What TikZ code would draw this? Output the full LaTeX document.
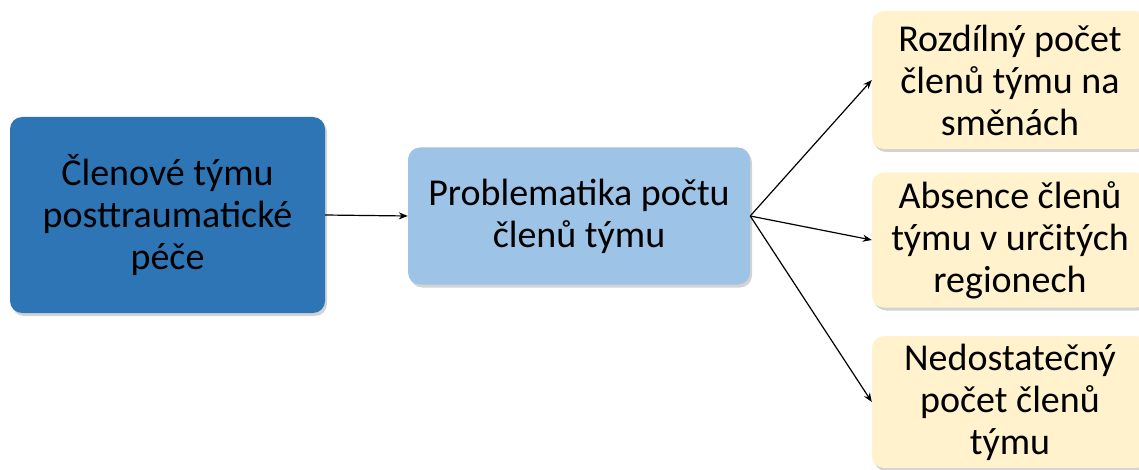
\documentclass[tikz,border=0pt]{standalone}
\usepackage{fontspec}
\setmainfont{Carlito}
\usetikzlibrary{arrows.meta,shadows}

\definecolor{tymblue}{HTML}{2E75B6}
\definecolor{problue}{HTML}{9DC3E6}
\definecolor{cream}{HTML}{FFF2CC}

\tikzset{
	box/.style={rounded corners=12pt, align=center, text=black,
		font=\fontsize{38}{42}\selectfont,
		drop shadow={opacity=0.35, shadow xshift=2pt, shadow yshift=-3pt}},
	link/.style={line width=1.2pt, -{Stealth[length=9pt,width=7pt]}}
}

\begin{document}
\begin{tikzpicture}[x=1pt,y=1pt]
	\useasboundingbox (0,0) rectangle (1139,-470);
	\clip (0,0) rectangle (1139,-470);

	\node[box, fill=tymblue, minimum width=315, minimum height=196] (tym) at (167.5,-215) {Členové týmu\\posttraumatické\\péče};
	\node[box, fill=problue, minimum width=342, minimum height=137] (problem) at (579,-216) {Problematika počtu\\členů týmu};

	\node[box, fill=cream, minimum width=276, minimum height=138] (smeny) at (1010,-80) {Rozdílný počet\\členů týmu na\\směnách};
	\node[box, fill=cream, minimum width=276, minimum height=135] (regiony) at (1010,-240) {Absence členů\\týmu v určitých\\regionech};
	\node[box, fill=cream, minimum width=276, minimum height=132] (pocet) at (1010,-402) {Nedostatečný\\počet členů\\týmu};

	\draw[link] (tym.east) -- (problem.west);
	\foreach \n in {smeny,regiony,pocet}
		\draw[link] (problem.east) -- (\n.west);
\end{tikzpicture}
\end{document}
